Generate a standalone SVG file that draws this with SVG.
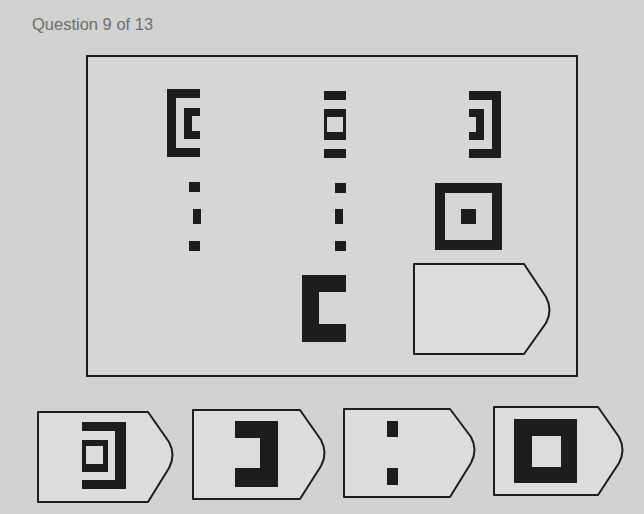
<svg xmlns="http://www.w3.org/2000/svg" width="644" height="514" viewBox="0 0 644 514">
<defs>
<style>
.blk{fill:#1c1d1f}
.frame{fill:#d6d6d4;stroke:#1c1d1f;stroke-width:2}
.opt{fill:#dcdcda;stroke:#1c1d1f;stroke-width:2;stroke-linejoin:round}
.title{font-family:"Liberation Sans",Arial,sans-serif;font-size:16.5px;fill:#6e6e6e}
</style>
</defs>
<rect x="0" y="0" width="644" height="514" fill="#d2d2d0"/>
<text class="title" x="32" y="30">Question 9 of 13</text>
<g id="grid">
<rect class="frame" x="87" y="56" width="490" height="320"/>
</g>
<g id="cell-1-1">
<rect class="blk" x="167" y="89" width="33" height="9"/>
<rect class="blk" x="167" y="89" width="9" height="68"/>
<rect class="blk" x="167" y="148" width="33" height="9"/>
<rect class="blk" x="184" y="108" width="16" height="8"/>
<rect class="blk" x="184" y="108" width="8" height="31"/>
<rect class="blk" x="184" y="131" width="16" height="8"/>
</g>
<g id="cell-1-2">
<rect class="blk" x="324" y="91" width="22" height="9"/>
<path class="blk" fill-rule="evenodd" d="M324,109H346V140H324Z M327,117V132H343V117Z"/>
<rect class="blk" x="324" y="149" width="22" height="9"/>
</g>
<g id="cell-1-3">
<rect class="blk" x="469" y="91" width="32" height="9"/>
<rect class="blk" x="492" y="91" width="9" height="67"/>
<rect class="blk" x="469" y="149" width="32" height="9"/>
<rect class="blk" x="469" y="109" width="15" height="8"/>
<rect class="blk" x="476" y="109" width="8" height="31"/>
<rect class="blk" x="469" y="132" width="15" height="8"/>
</g>
<g id="cell-2-1">
<rect class="blk" x="189" y="182" width="11" height="10"/>
<rect class="blk" x="193" y="209" width="8" height="15"/>
<rect class="blk" x="189" y="241" width="11" height="10"/>
</g>
<g id="cell-2-2">
<rect class="blk" x="335" y="183" width="11" height="10"/>
<rect class="blk" x="335" y="209" width="8" height="15"/>
<rect class="blk" x="335" y="241" width="11" height="10"/>
</g>
<g id="cell-2-3">
<path class="blk" fill-rule="evenodd" d="M435,183H502V250H435Z M445,193V240H492V193Z"/>
<rect class="blk" x="461" y="209" width="15" height="15"/>
</g>
<g id="cell-3-2">
<path class="blk" d="M302,275H346V292H319V324H346V342H302Z"/>
</g>
<g id="cell-3-3">
<path class="opt" d="M414,264H524L546,297Q553,310 546,323L524,354H414Z"/>
</g>
<g id="option-1">
<path class="opt" d="M38,412H148L169,442Q176,455 169,468L148,502H38Z"/>
<path class="blk" d="M82,422H126V489H82V480H115V431H82Z"/>
<path class="blk" fill-rule="evenodd" d="M82,440H108V472H82Z M86,446V464H103V446Z"/>
</g>
<g id="option-2">
<path class="opt" d="M193,410H300L321,440Q328,453 321,466L300,499H193Z"/>
<path class="blk" d="M235,421H278V487H235V468H260V438H235Z"/>
</g>
<g id="option-3">
<path class="opt" d="M344,409H450L471,437Q478,450 471,463L450,497H344Z"/>
<rect class="blk" x="387" y="421" width="11" height="16"/>
<rect class="blk" x="387" y="468" width="11" height="17"/>
</g>
<g id="option-4">
<path class="opt" d="M494,407H598L619,437Q626,450 619,463L598,495H494Z"/>
<path class="blk" fill-rule="evenodd" d="M514,419H577V483H514Z M532,436V467H561V436Z"/>
</g>
</svg>
